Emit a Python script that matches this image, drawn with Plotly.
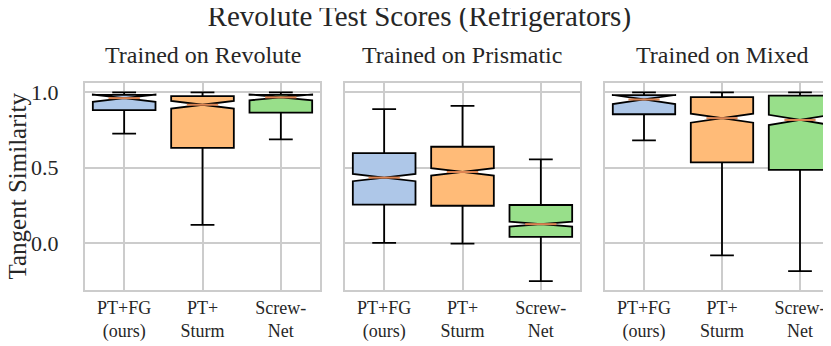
import plotly.graph_objects as go
from plotly.subplots import make_subplots

# data (tangent similarity box stats)
panels = ['Trained on Revolute', 'Trained on Prismatic', 'Trained on Mixed']
methods = ['PT+FG<br>(ours)', 'PT+<br>Sturm', 'Screw-<br>Net']
colors = ['#aec7e8', '#ffbb78', '#98df8a']

lower = [[0.726, 0.120, 0.688], [0.000, -0.005, -0.254], [0.682, -0.082, -0.187]]
q1 = [[0.882, 0.632, 0.866], [0.254, 0.247, 0.040], [0.855, 0.535, 0.486]]
median = [[0.962, 0.918, 0.967], [0.434, 0.472, 0.125], [0.953, 0.829, 0.817]]
q3 = [[0.984, 0.975, 0.984], [0.597, 0.639, 0.252], [0.982, 0.969, 0.978]]
upper = [[1.0, 1.0, 1.0], [0.889, 0.911, 0.555], [1.0, 1.0, 1.0]]
notch = [[0.024, 0.025, 0.020], [0.024, 0.025, 0.016], [0.030, 0.030, 0.034]]

FONT = 'Liberation Serif'
GRID = '#cccccc'
TXT = '#262626'

fig = make_subplots(rows=1, cols=3, shared_yaxes=True, horizontal_spacing=0.033,
                    subplot_titles=panels)

for p in range(3):
    for m in range(3):
        fig.add_trace(go.Box(
            x=[m], q1=[q1[p][m]], median=[median[p][m]], q3=[q3[p][m]],
            lowerfence=[lower[p][m]], upperfence=[upper[p][m]],
            notchspan=[notch[p][m]], notched=True, notchwidth=0.5,
            width=0.8, whiskerwidth=0.38, fillcolor=colors[m],
            line=dict(color='black', width=1.8), boxpoints=False,
            showlegend=False, hoverinfo='skip'), row=1, col=p + 1)
        # orange median line like matplotlib
        fig.add_trace(go.Scatter(
            x=[m - 0.2, m + 0.2], y=[median[p][m]] * 2, mode='lines',
            line=dict(color='#dd8452', width=2), showlegend=False,
            hoverinfo='skip'), row=1, col=p + 1)

# panel placement (pixels 77-312, 337-572, 597-831 of the 754 px plot width)
domains = [[0, 235 / 754], [260 / 754, 495 / 754], [520 / 754, 1]]
for i, d in enumerate(domains):
    fig.layout['xaxis' + ('' if i == 0 else str(i + 1))].domain = d

fig.update_xaxes(range=[-0.5, 2.5], tickvals=[0, 1, 2], ticktext=methods,
                 showgrid=True, gridcolor=GRID, gridwidth=1.6,
                 showline=True, mirror=True, linecolor=GRID, linewidth=2,
                 zeroline=False, ticks='', automargin=False,
                 tickfont=dict(size=18, color=TXT))
fig.update_yaxes(range=[-0.3125, 1.0625], tickvals=[0, 0.5, 1.0], tickformat='.1f',
                 showgrid=True, gridcolor=GRID, gridwidth=1.6,
                 showline=True, mirror=True, linecolor=GRID, linewidth=2,
                 zeroline=False, ticks='', ticklabelstandoff=20, automargin=False,
                 tickfont=dict(size=22, color=TXT))

# re-centre subplot titles on the new domains
for a, d in zip(fig.layout.annotations, domains):
    a.x = (d[0] + d[1]) / 2
    a.font = dict(family=FONT, size=24, color=TXT)
    a.yshift = 13

# y axis title as a rotated annotation, left of the tick labels
fig.add_annotation(text='Tangent Similarity', textangle=-90, xref='paper', yref='paper',
                   x=-68 / 754, y=0.5, xanchor='center', yanchor='middle', showarrow=False,
                   font=dict(family=FONT, size=25, color=TXT))

fig.update_layout(
    width=831, height=346,
    margin=dict(l=77, r=0, t=75, b=64),
    font=dict(family=FONT, color=TXT),
    plot_bgcolor='white', paper_bgcolor='white',
    title=dict(text='Revolute Test Scores (Refrigerators)', x=0.495, xanchor='center',
               y=0.948, yanchor='bottom', font=dict(size=29, color=TXT)),
)

fig.write_html('out.html')
